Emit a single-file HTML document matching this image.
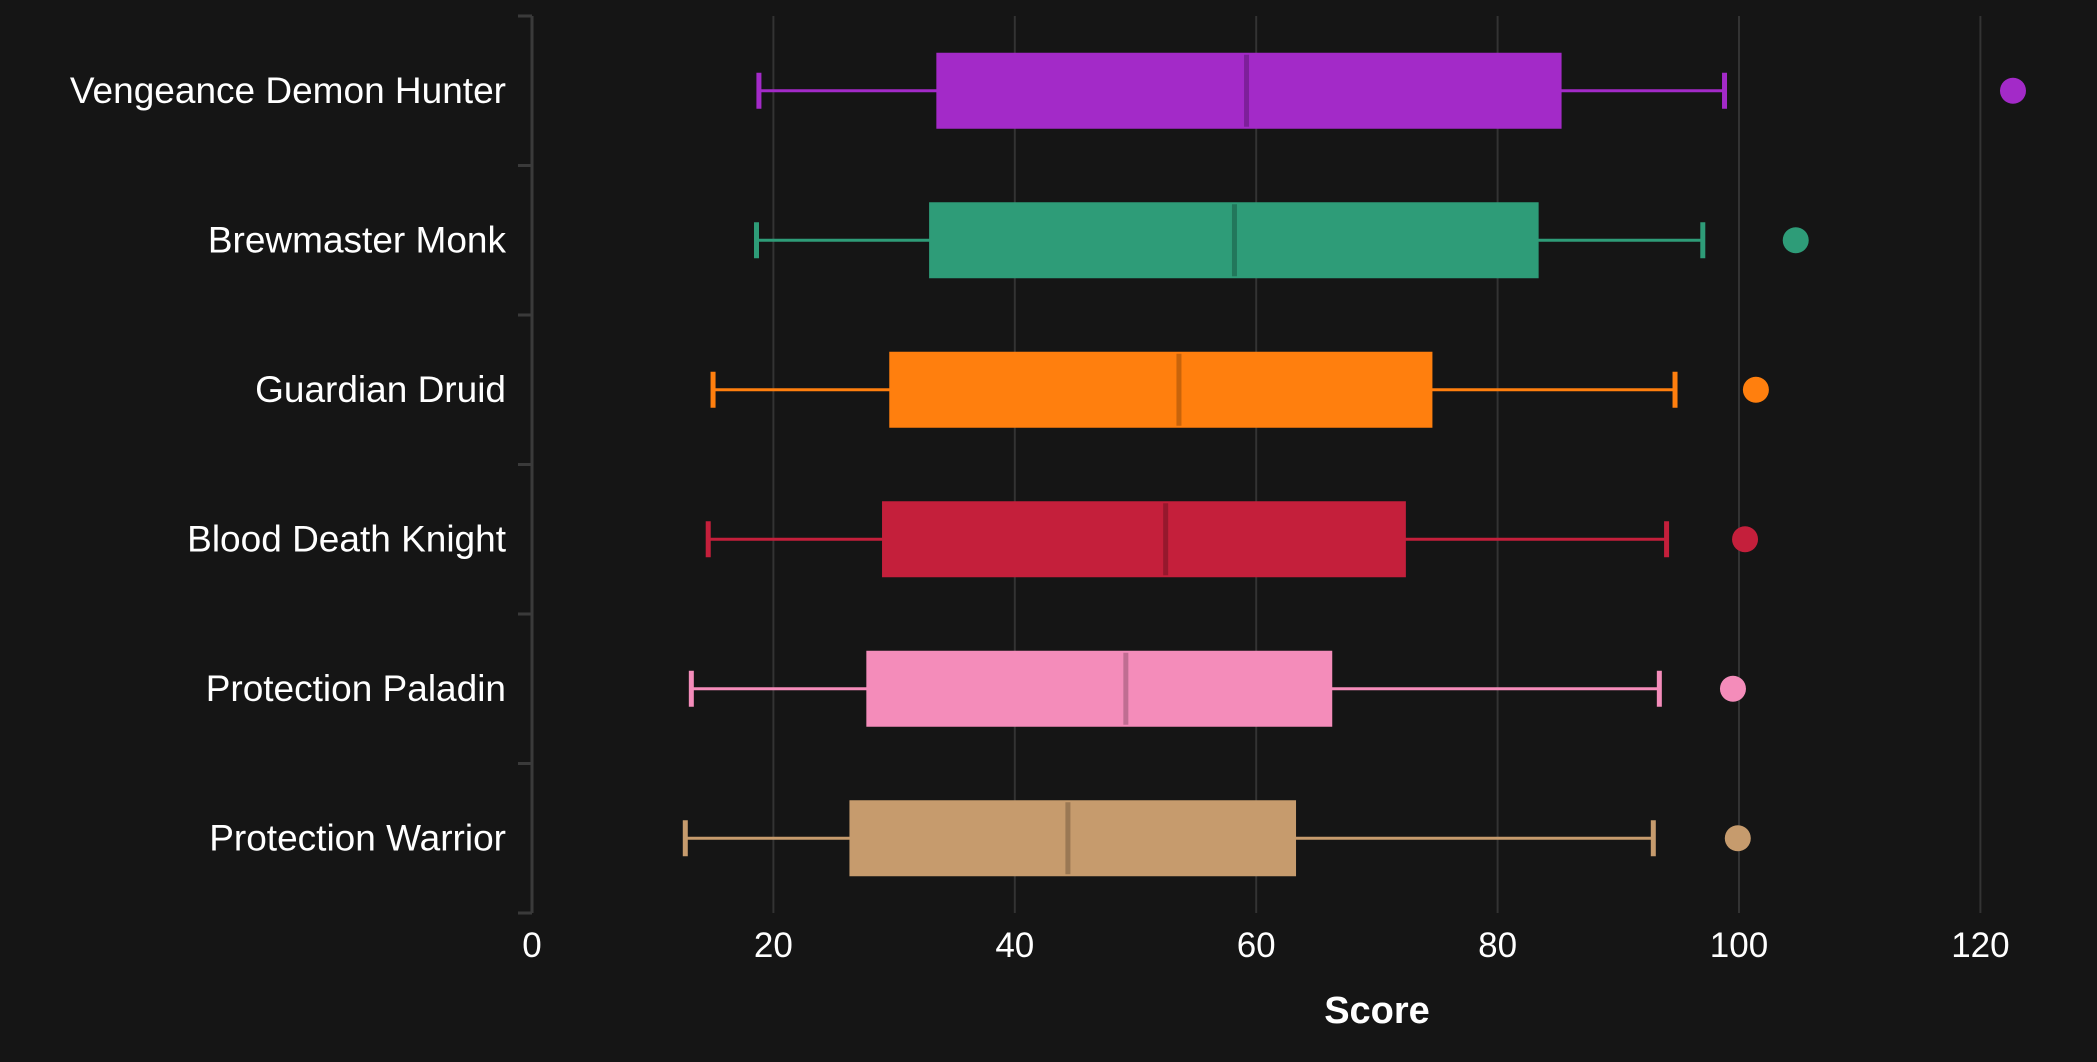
<!DOCTYPE html>
<html><head><meta charset="utf-8"><style>
html,body{margin:0;padding:0;background:#151515;}
svg{display:block;font-family:"Liberation Sans",sans-serif;}
</style></head><body>
<svg id="chart" width="2097" height="1062" viewBox="0 0 2097 1062">
<rect width="2097" height="1062" fill="#151515"/>
<g id="grid"></g>
<g id="yaxis"></g>
<g id="xaxis"></g>
<g id="boxes"></g>
<text x="1377" y="1023" fill="#ffffff" font-size="38" font-weight="bold" text-anchor="middle">Score</text>
</svg>
<script>
const categories = ["Vengeance Demon Hunter","Brewmaster Monk","Guardian Druid","Blood Death Knight","Protection Paladin","Protection Warrior"];
const whiskerLow = [18.8,18.6,15.0,14.6,13.2,12.7];
const q1 = [33.5,32.9,29.6,29.0,27.7,26.3];
const median = [59.2,58.2,53.6,52.5,49.2,44.4];
const q3 = [85.3,83.4,74.6,72.4,66.3,63.3];
const whiskerHigh = [98.8,97.0,94.7,94.0,93.4,92.9];
const outliers = [122.7,104.7,101.4,100.5,99.5,99.9];
const xTicks = [0,20,40,60,80,100,120];
const colors = ["#a32ac8","#2e9c78","#ff7f0e","#c41f3b","#f48cba","#c69b6d"];
const medColors = ["#7d1f9a","#22775b","#c8640b","#96182d","#c06d92","#9a7854"];

const NS="http://www.w3.org/2000/svg";
const x0=532, xPer=12.07, plotTop=16, plotBottom=913;
const band=(plotBottom-plotTop)/categories.length;
function sx(v){return x0+v*xPer;}
function sy(i){return plotTop+band*(i+0.5);}
function mk(tag,attrs,parent){const e=document.createElementNS(NS,tag);for(const k in attrs)e.setAttribute(k,attrs[k]);parent.appendChild(e);return e;}
const grid=document.getElementById('grid'),ya=document.getElementById('yaxis'),xa=document.getElementById('xaxis'),bx=document.getElementById('boxes');

xTicks.forEach(t=>{
  if(t>0){const g=mk('line',{x1:sx(t),x2:sx(t),y1:plotTop,y2:plotBottom,stroke:'#333333','stroke-width':2},grid);
  
  }
  const tl=mk('text',{x:sx(t),y:957,fill:'#ffffff','font-size':35,'text-anchor':'middle'},xa);
  tl.textContent=t;
  
  
});
const al=mk('line',{x1:x0,x2:x0,y1:plotTop,y2:plotBottom,stroke:'#3a3a3a','stroke-width':3},ya);


for(let i=0;i<=categories.length;i++){
  const tk=mk('line',{x1:x0-14,x2:x0,y1:plotTop+band*i,y2:plotTop+band*i,stroke:'#3a3a3a','stroke-width':3},ya);
  
  
}
categories.forEach((c,i)=>{
  const y=sy(i);
  const lb=mk('text',{x:506,y:y+12,fill:'#ffffff','font-size':37,'text-anchor':'end'},ya);
  lb.textContent=c;
  
  
  const g=mk('g',{},bx);
  
  
  const col=colors[i];
  const w=mk('line',{x1:sx(whiskerLow[i]),x2:sx(whiskerHigh[i]),y1:y,y2:y,stroke:col,'stroke-width':3},g);
  
  
  [whiskerLow[i],whiskerHigh[i]].forEach(v=>{
    const cp=mk('rect',{x:sx(v)-2.5,y:y-18,width:5,height:36,fill:col},g);
    
    
  });
  const b=mk('rect',{x:sx(q1[i]),y:y-38,width:sx(q3[i])-sx(q1[i]),height:76,fill:col},g);
  
  
  const m=mk('rect',{x:sx(median[i])-2.5,y:y-36,width:5,height:72,fill:medColors[i]},g);
  
  
  const o=mk('circle',{cx:sx(outliers[i]),cy:y,r:13,fill:col},g);
  
  
});
</script>
</body></html>
